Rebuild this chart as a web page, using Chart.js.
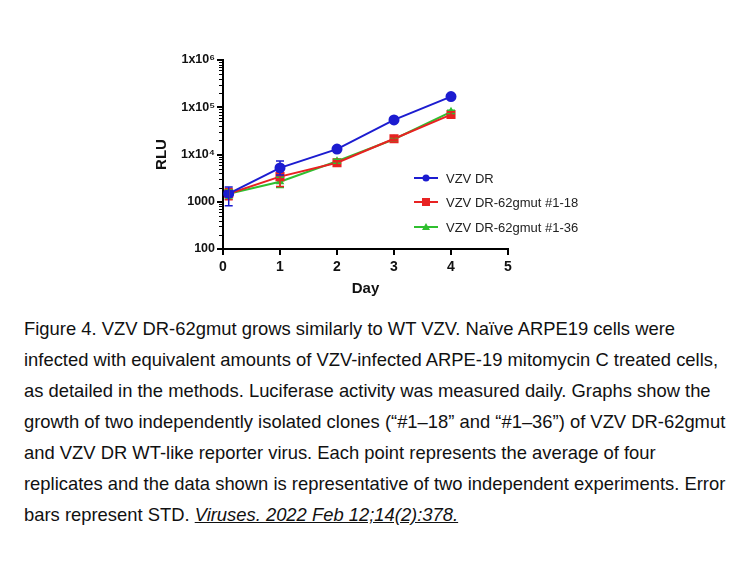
<!DOCTYPE html>
<html>
<head>
<meta charset="utf-8">
<script src="https://cdn.jsdelivr.net/npm/chart.js@4"></script>
<style>
  body { margin: 0; background: #fff; width: 756px; height: 567px; position: relative; overflow: hidden; }
  #wrap { position: absolute; left: 0; top: 0; width: 756px; height: 305px; }
  .caption {
    position: absolute; left: 24px; top: 313px;
    font-family: "Liberation Sans", Arial, sans-serif;
    font-size: 18.4px; line-height: 31px; color: #111; white-space: nowrap;
  }
  .caption u { font-style: italic; }
</style>
</head>
<body>
<div id="wrap"><canvas id="myChart"></canvas></div>
<div class="caption">
Figure 4. VZV DR-62gmut grows similarly to WT VZV. Naïve ARPE19 cells were<br>
infected with equivalent amounts of VZV-infected ARPE-19 mitomycin C treated cells,<br>
as detailed in the methods. Luciferase activity was measured daily. Graphs show the<br>
growth of two independently isolated clones (“#1–18” and “#1–36”) of VZV DR-62gmut<br>
and VZV DR WT-like reporter virus. Each point represents the average of four<br>
replicates and the data shown is representative of two independent experiments. Error<br>
bars represent STD. <u>Viruses. 2022 Feb 12;14(2):378.</u>
</div>
<script>
// values
const days = [0.1, 1, 2, 3, 4];
const seriesNames = ["VZV DR", "VZV DR-62gmut #1-18", "VZV DR-62gmut #1-36"];
const vzvDR = [1480, 5200, 13000, 54000, 168000];
const vzvDRlo = [820, 3700, 11500, 50000, 155000];
const vzvDRhi = [2050, 7300, 14500, 58000, 180000];
const mut18 = [1480, 3400, 6700, 21500, 70000];
const mut18lo = [1100, 2100, 6000, 19500, 62000];
const mut18hi = [1900, 3900, 7400, 23500, 80000];
const mut36 = [1480, 2650, 7200, 21000, 80000];
const mut36lo = [1150, 2000, 6500, 19500, 74000];
const mut36hi = [1850, 3300, 7900, 22500, 86000];
const yTicks = [100, 1000, 10000, 100000, 1000000];
const yTickLabels = ["100", "1000", "1x10⁴", "1x10⁵", "1x10⁶"];
const xTicks = [0, 1, 2, 3, 4, 5];

const colors = ["#1c1cd0", "#e82222", "#2fbf2f"];

const ctx = document.getElementById("myChart");

const toPoints = (ys) => ys.map((y, i) => ({ x: days[i], y: y }));

// error bars + minor y ticks + legend, all placed via the chart scales
const extras = {
  id: "extras",
  afterDatasetsDraw(chart) {
    const c = chart.ctx;
    const xs = chart.scales.x;
    const ys = chart.scales.y;
    const bars = [[vzvDRlo, vzvDRhi], [mut18lo, mut18hi], [mut36lo, mut36hi]];
    for (let d = bars.length - 1; d >= 0; d--) {
      c.save();
      c.strokeStyle = colors[d];
      c.lineWidth = 1.5;
      days.forEach((day, i) => {
        const px = xs.getPixelForValue(day);
        const top = ys.getPixelForValue(bars[d][1][i]);
        const bot = ys.getPixelForValue(bars[d][0][i]);
        c.beginPath();
        c.moveTo(px, top); c.lineTo(px, bot);
        c.moveTo(px - 4, top); c.lineTo(px + 4, top);
        c.moveTo(px - 4, bot); c.lineTo(px + 4, bot);
        c.stroke();
      });
      c.restore();
    }
  },
  afterDraw(chart) {
    const c = chart.ctx;
    const ys = chart.scales.y;
    const left = chart.chartArea.left;
    c.save();
    c.strokeStyle = "#000";
    c.lineWidth = 1;
    for (let e = 2; e < 6; e++) {
      for (let m = 2; m < 10; m++) {
        const py = Math.round(ys.getPixelForValue(m * Math.pow(10, e))) + 0.5;
        c.beginPath();
        c.moveTo(left - 4, py); c.lineTo(left, py);
        c.stroke();
      }
    }
    // legend
    const lx = 414, ly = [178, 202, 227];
    c.font = "13px 'Liberation Sans', Arial, sans-serif";
    c.textBaseline = "middle";
    seriesNames.forEach((name, i) => {
      c.strokeStyle = colors[i];
      c.fillStyle = colors[i];
      c.lineWidth = 2;
      c.beginPath();
      c.moveTo(lx, ly[i]); c.lineTo(lx + 24, ly[i]);
      c.stroke();
      c.beginPath();
      if (i === 0) {
        c.arc(lx + 12, ly[i], 3.5, 0, Math.PI * 2);
      } else if (i === 1) {
        c.rect(lx + 8, ly[i] - 4, 8, 8);
      } else {
        c.moveTo(lx + 12, ly[i] - 4); c.lineTo(lx + 16, ly[i] + 3); c.lineTo(lx + 8, ly[i] + 3);
        c.closePath();
      }
      c.fill();
      c.fillStyle = "#222";
      c.fillText(name, lx + 32, ly[i] + 1);
    });
    c.restore();
  }
};

new Chart(ctx, {
  type: "line",
  data: {
    datasets: [
      {
        label: seriesNames[0],
        data: toPoints(vzvDR),
        borderColor: colors[0],
        backgroundColor: colors[0],
        pointStyle: "circle",
        pointRadius: 4.5,
        borderWidth: 2,
      },
      {
        label: seriesNames[1],
        data: toPoints(mut18),
        borderColor: colors[1],
        backgroundColor: colors[1],
        pointStyle: "rect",
        pointRadius: 5,
        borderWidth: 2,
      },
      {
        label: seriesNames[2],
        data: toPoints(mut36),
        borderColor: colors[2],
        backgroundColor: colors[2],
        pointStyle: "triangle",
        pointRadius: 3,
        borderWidth: 2,
      },
    ],
  },
  options: {
    responsive: true,
    maintainAspectRatio: false,
    animation: false,
    layout: { padding: { left: 153, right: 248, top: 60, bottom: 3 } },
    plugins: {
      legend: { display: false },
      tooltip: { enabled: false },
    },
    scales: {
      x: {
        type: "linear",
        min: 0,
        max: 5,
        afterBuildTicks: (s) => { s.ticks = xTicks.map((v) => ({ value: v })); },
        afterFit: (s) => { s.height = 53; },
        grid: { drawOnChartArea: false, tickLength: 6, color: "#000", lineWidth: 2 },
        border: { color: "#000", width: 2 },
        ticks: { color: "#111", font: { family: "'Liberation Sans', Arial", size: 14, weight: "bold" }, padding: 4 },
        title: { display: true, text: "Day", color: "#111", font: { family: "'Liberation Sans', Arial", size: 15, weight: "bold" }, padding: { top: 5 } },
      },
      y: {
        type: "logarithmic",
        min: 100,
        max: 1000000,
        afterBuildTicks: (s) => { s.ticks = yTicks.map((v) => ({ value: v })); },
        afterFit: (s) => { s.width = 70; },
        grid: { drawOnChartArea: false, tickLength: 6, color: "#000", lineWidth: 2 },
        border: { color: "#000", width: 2 },
        ticks: {
          color: "#111",
          font: { family: "'Liberation Sans', Arial", size: 12.5, weight: "bold" },
          padding: 2,
          callback: (v) => yTickLabels[yTicks.indexOf(v)],
        },
        title: { display: true, text: "RLU", color: "#111", font: { family: "'Liberation Sans', Arial", size: 15, weight: "bold" }, padding: 0 },
      },
    },
  },
  plugins: [extras],
});
</script>
</body>
</html>
